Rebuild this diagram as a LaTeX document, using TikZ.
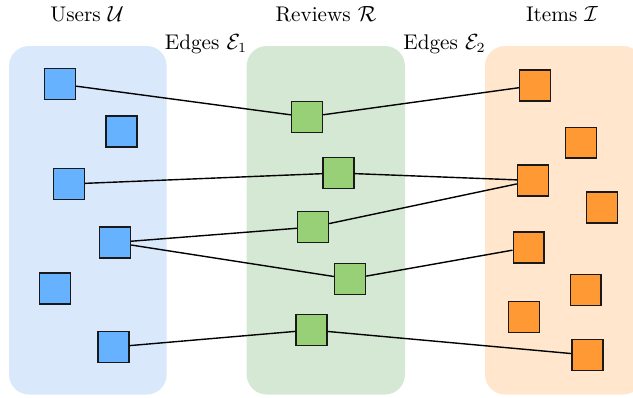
\documentclass[tikz,border=0pt]{standalone}
\usepackage{amsmath}
\definecolor{userpanel}{HTML}{DAE8FC}
\definecolor{reviewpanel}{HTML}{D5E8D4}
\definecolor{itempanel}{HTML}{FFE6CC}
\definecolor{userfill}{HTML}{66B2FF}
\definecolor{reviewfill}{HTML}{97D077}
\definecolor{itemfill}{HTML}{FF9933}
\begin{document}
\begin{tikzpicture}[x=0.5pt,y=-0.5pt,
  panel/.style={rounded corners=10pt},
  sq/.style={draw=black!90,line width=0.8pt,minimum size=15.4pt,inner sep=0pt},
  usr/.style={sq,fill=userfill},
  rev/.style={sq,fill=reviewfill},
  itm/.style={sq,fill=itemfill},
  link/.style={draw=black,line width=0.7pt},
  lbl/.style={inner sep=0pt,font=\fontsize{10.6}{12}\selectfont}]
\useasboundingbox (0,0) rectangle (633,397);
\clip (0,0) rectangle (633,397);

% group panels
\fill[panel,userpanel]   (9,46)   rectangle (166.7,394.5);
\fill[panel,reviewpanel] (246.7,46) rectangle (405,394.5);
\fill[panel,itempanel]   (485,46) rectangle (643,394.5);

% headings
\node[lbl] (hu) at (87,14)  {Users $\mathcal{U}$};
\node[lbl] (hr) at (326,14) {Reviews $\mathcal{R}$};
\node[lbl] (hi) at (562,14) {Items $\mathcal{I}$};
\node[lbl] (he1) at (206,44) {Edges $\mathcal{E}_1$};
\node[lbl] (he2) at (444.5,44) {Edges $\mathcal{E}_2$};

% users
\node[usr] (u1) at (60,84) {};
\node[usr] (u2) at (121.5,131.5) {};
\node[usr] (u3) at (69,184) {};
\node[usr] (u4) at (115,242.5) {};
\node[usr] (u5) at (55,288.5) {};
\node[usr] (u6) at (113.5,347) {};

% reviews
\node[rev] (r1) at (307,117) {};
\node[rev] (r2) at (338.5,173) {};
\node[rev] (r3) at (313,227) {};
\node[rev] (r4) at (350,279) {};
\node[rev] (r5) at (311.5,330) {};

% items
\node[itm] (i1) at (535,85.5) {};
\node[itm] (i2) at (581,142.7) {};
\node[itm] (i3) at (533,180.5) {};
\node[itm] (i4) at (602,207.5) {};
\node[itm] (i5) at (528.7,247.3) {};
\node[itm] (i6) at (585.7,290) {};
\node[itm] (i7) at (524,317) {};
\node[itm] (i8) at (587.3,355) {};

% user--review edges
\draw[link] (u1) -- (r1);
\draw[link] (u3) -- (r2);
\draw[link] (u4) -- (r3);
\draw[link] (u4) -- (r4);
\draw[link] (u6) -- (r5);

% review--item edges
\draw[link] (r1) -- (i1);
\draw[link] (r2) -- (i3);
\draw[link] (r3) -- (i3);
\draw[link] (r4) -- (i5);
\draw[link] (r5) -- (i8);
\end{tikzpicture}
\end{document}
